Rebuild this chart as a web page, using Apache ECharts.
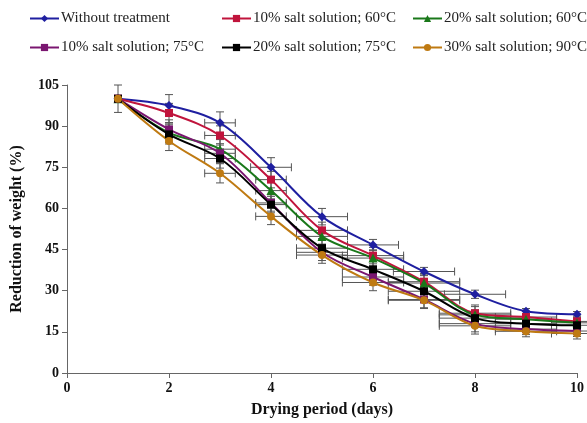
<!DOCTYPE html>
<html>
<head>
<meta charset="utf-8">
<script src="https://cdn.jsdelivr.net/npm/echarts@6/dist/echarts.min.js"></script>
<style>
    html, body { margin: 0; padding: 0; background: #fff; }
    #chart { width: 587px; height: 423px; }
</style>
</head>
<body>
<div id="chart"></div>
<script>
(function () {
    "use strict";
    var days = [1, 2, 3, 4, 5, 6, 7, 8, 9, 10];
    var seriesNames = [
        'Without treatment',
        '10% salt solution; 60°C',
        '20% salt solution; 60°C',
        '10% salt solution; 75°C',
        '20% salt solution; 75°C',
        '30% salt solution; 90°C'
    ];
    var withoutTreatment = [100, 97.5, 91.2, 75, 57, 46.7, 37, 28.7, 22.5, 21.4];
    var salt10At60 = [100, 94.8, 86.6, 70.5, 52, 42.8, 33.3, 21.8, 20.4, 18.8];
    var salt20At60 = [100, 87.6, 81.6, 66.5, 49.8, 41.9, 32.8, 21.2, 19.6, 18.3];
    var salt10At75 = [100, 88.8, 80.1, 62, 44, 35, 26.8, 18, 16, 15.3];
    var salt20At75 = [100, 87, 78.2, 61.4, 45.5, 37.8, 29.8, 20, 18, 17.4];
    var salt30At90 = [100, 84.6, 72.8, 57.1, 43, 33, 26.5, 17.2, 15.2, 14.4];

    // error bars: vertical (% units) and horizontal (day units)
    var yErrBlue = [5, 4, 4, 3.5, 3, 2, 1.5, 1.5, 1, 1];
    var xErrBlue = [0, 0, 0.3, 0.4, 0.5, 0.5, 0.6, 0.6, 0, 0];
    var yErrOther = [0, 3.5, 3.5, 3, 3, 3, 3, 3, 2, 2];
    var xErrOther = [0, 0, 0.3, 0.3, 0.5, 0.6, 0.7, 0.7, 0.6, 0.5];

    var xTicks = [0, 2, 4, 6, 8, 10];
    var yTicks = [0, 15, 30, 45, 60, 75, 90, 105];

    var colors = ['#1f1fa0', '#c0143c', '#1a781a', '#7a1670', '#000000', '#bf7a12'];
    var symbols = ['diamond', 'rect', 'triangle', 'rect', 'rect', 'circle'];
    var values = [withoutTreatment, salt10At60, salt20At60, salt10At75, salt20At75, salt30At90];

    var serif = '"Liberation Serif", "Times New Roman", serif';

    function pairs(ys) {
        return days.map(function (d, i) { return [d, ys[i]]; });
    }

    function errData(ys, yErr, xErr) {
        return days.map(function (d, i) { return [d, ys[i], xErr[i], yErr[i]]; });
    }

    function renderErr(params, api) {
        var x = api.value(0), y = api.value(1), xe = api.value(2), ye = api.value(3);
        var c = api.coord([x, y]);
        var children = [];
        var style = { stroke: '#555', lineWidth: 1 };
        var cap = 4;
        if (ye > 0) {
            var top = api.coord([x, y + ye]), bot = api.coord([x, y - ye]);
            children.push({ type: 'line', shape: { x1: c[0], y1: top[1], x2: c[0], y2: bot[1] }, style: style });
            children.push({ type: 'line', shape: { x1: c[0] - cap, y1: top[1], x2: c[0] + cap, y2: top[1] }, style: style });
            children.push({ type: 'line', shape: { x1: c[0] - cap, y1: bot[1], x2: c[0] + cap, y2: bot[1] }, style: style });
        }
        if (xe > 0) {
            var l = api.coord([x - xe, y]), r = api.coord([x + xe, y]);
            children.push({ type: 'line', shape: { x1: l[0], y1: c[1], x2: r[0], y2: c[1] }, style: style });
            children.push({ type: 'line', shape: { x1: l[0], y1: c[1] - cap, x2: l[0], y2: c[1] + cap }, style: style });
            children.push({ type: 'line', shape: { x1: r[0], y1: c[1] - cap, x2: r[0], y2: c[1] + cap }, style: style });
        }
        return { type: 'group', children: children };
    }

    var series = [];
    // error bars drawn first (under the lines)
    values.forEach(function (ys, i) {
        series.push({
            type: 'custom',
            silent: true,
            z: 1,
            renderItem: renderErr,
            encode: { x: 0, y: 1 },
            data: i === 0 ? errData(ys, yErrBlue, xErrBlue) : errData(ys, yErrOther, xErrOther)
        });
    });
    values.forEach(function (ys, i) {
        series.push({
            name: seriesNames[i],
            type: 'line',
            smooth: 0.35,
            z: 3,
            data: pairs(ys),
            symbol: symbols[i],
            symbolSize: symbols[i] === 'diamond' ? 9 : (symbols[i] === 'triangle' ? 9 : 8),
            lineStyle: { color: colors[i], width: 2 },
            itemStyle: { color: colors[i] }
        });
    });

    var legendPos = [
        { left: 29, top: 11 }, { left: 221, top: 11 }, { left: 412, top: 11 },
        { left: 29, top: 40 }, { left: 221, top: 40 }, { left: 412, top: 40 }
    ];
    var legends = seriesNames.map(function (n, i) {
        return {
            left: legendPos[i].left,
            top: legendPos[i].top,
            padding: 0,
            data: [n],
            itemWidth: 29,
            itemHeight: 9,
            itemGap: 3,
            selectedMode: false,
            textStyle: { fontFamily: serif, fontSize: 15, color: '#222', padding: [0, 0, 0, -3] }
        };
    });

    var axisLabelStyle = { fontFamily: serif, fontSize: 14, fontWeight: 'bold', color: '#111' };

    var chart = echarts.init(document.getElementById('chart'));
    chart.setOption({
        animation: false,
        color: colors,
        legend: legends,
        grid: { left: 67, right: 9, top: 85, bottom: 47 },
        xAxis: {
            type: 'value',
            min: xTicks[0],
            max: xTicks[xTicks.length - 1],
            interval: 2,
            name: 'Drying period (days)',
            nameLocation: 'middle',
            nameGap: 29,
            nameTextStyle: { fontFamily: serif, fontSize: 16, fontWeight: 'bold', color: '#111' },
            axisLine: { lineStyle: { color: '#666' } },
            axisTick: { show: true, length: 5, lineStyle: { color: '#666' } },
            axisLabel: axisLabelStyle,
            splitLine: { show: false }
        },
        yAxis: {
            type: 'value',
            min: yTicks[0],
            max: yTicks[yTicks.length - 1],
            interval: 15,
            name: 'Reduction of weight (%)',
            nameLocation: 'middle',
            nameGap: 42,
            nameTextStyle: { fontFamily: serif, fontSize: 16, fontWeight: 'bold', color: '#111' },
            axisLine: { show: true, lineStyle: { color: '#666' } },
            axisTick: { show: true, length: 5, lineStyle: { color: '#666' } },
            axisLabel: axisLabelStyle,
            splitLine: { show: false }
        },
        series: series
    });
}());
</script>
</body>
</html>
